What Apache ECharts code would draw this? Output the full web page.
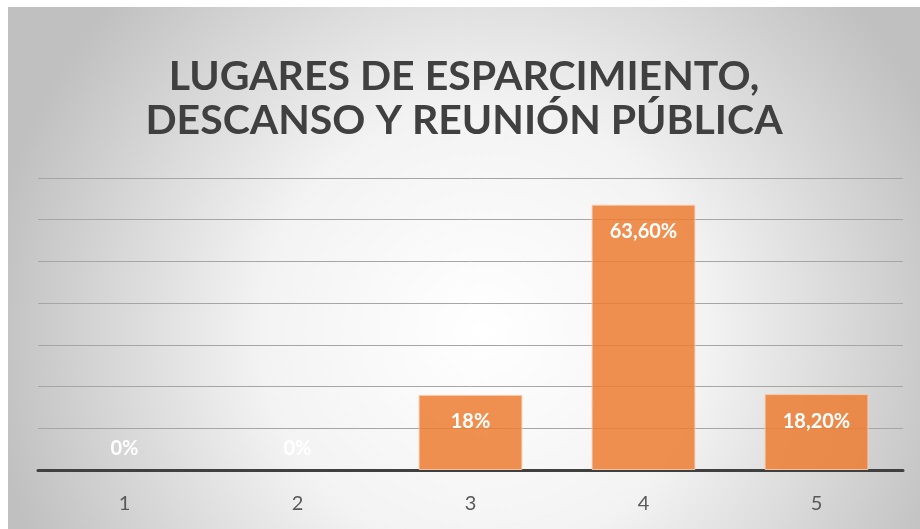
<!DOCTYPE html>
<html>
<head>
<meta charset="utf-8">
<script src="https://cdn.jsdelivr.net/npm/echarts@6/dist/echarts.min.js"></script>
<style>
  html, body { margin: 0; padding: 0; background: #fff; }
  #container { position: absolute; left: 8px; top: 7px; width: 912px; height: 522px; }
</style>
</head>
<body>
<div id="container"></div>
<script>
var categories = ['1', '2', '3', '4', '5'];
var values = [0, 0, 18, 63.6, 18.2];
var valueLabels = ['0%', '0%', '18%', '63,60%', '18,20%'];

var dom = document.getElementById('container');
var myChart = echarts.init(dom);

var barData = [];
for (var i = 0; i < values.length; i++) {
    var item = { value: values[i] };
    if (values[i] === 0) {
        // empty bar: no outline, label sits just above the axis
        item.itemStyle = { borderWidth: 0, color: 'rgba(0,0,0,0)' };
        item.label = { position: 'top', distance: 11 };
    }
    barData.push(item);
}

var option = {
    backgroundColor: {
        type: 'radial', x: 0.52, y: 0.62, r: 0.95,
        colorStops: [
            { offset: 0, color: '#ffffff' },
            { offset: 0.45, color: '#f3f3f3' },
            { offset: 1, color: '#c0c0c0' }
        ]
    },
    title: {
        text: 'LUGARES DE ESPARCIMIENTO,\nDESCANSO Y REUNIÓN PÚBLICA',
        left: 'center',
        top: 43,
        padding: [5, 5, 5, 19],
        textStyle: {
            fontFamily: 'Lato',
            fontWeight: 'bold',
            fontSize: 41,
            lineHeight: 44,
            color: '#404040'
        }
    },
    grid: { left: 30, right: 17, top: 171, bottom: 59 },
    xAxis: {
        type: 'category',
        data: categories,
        axisLine: { lineStyle: { color: '#404040', width: 3 } },
        axisTick: { show: false },
        axisLabel: { color: '#595959', fontSize: 20, fontFamily: 'Lato', margin: 24 }
    },
    yAxis: {
        type: 'value',
        min: 0,
        max: 70,
        interval: 10,
        axisLabel: { show: false },
        axisLine: { show: false },
        axisTick: { show: false },
        splitLine: { lineStyle: { color: '#a6a6a6', width: 1 } }
    },
    series: [{
        type: 'bar',
        data: barData,
        barWidth: '60%',
        itemStyle: {
            color: 'rgba(237,125,49,0.85)',
            borderColor: 'rgba(248,203,173,0.9)',
            borderWidth: 1
        },
        label: {
            show: true,
            position: 'insideTop',
            distance: 17,
            color: '#ffffff',
            fontFamily: 'Lato',
            fontWeight: 'bold',
            fontSize: 20,
            formatter: function (p) { return valueLabels[p.dataIndex]; }
        },
        z: 3
    }]
};

myChart.setOption(option);
</script>
</body>
</html>
